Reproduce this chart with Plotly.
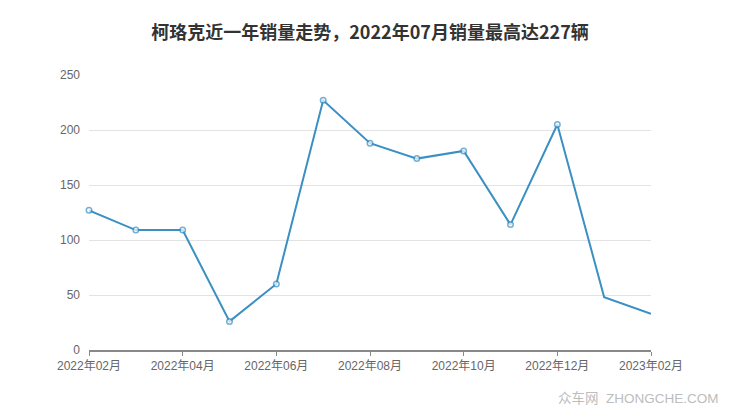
import plotly.graph_objects as go

months = ["2022年02月", "2022年03月", "2022年04月", "2022年05月", "2022年06月", "2022年07月",
          "2022年08月", "2022年09月", "2022年10月", "2022年11月", "2022年12月", "2023年01月", "2023年02月"]
sales = [127, 109, 109, 26, 60, 227, 188, 174, 181, 114, 205, 48, 33]
y_ticks = [0, 50, 100, 150, 200, 250]
x_tick_labels = months[::2]

n_marked = 11
sizes = [5.5] * n_marked + [0] * (len(months) - n_marked)

fig = go.Figure()
fig.add_trace(go.Scatter(
    x=list(range(len(months))), y=sales, mode="lines+markers",
    line=dict(color="#3a8fc3", width=2),
    marker=dict(symbol="circle", size=sizes, color="white", line=dict(width=1.5, color="#3a8fc3")),
    cliponaxis=False, hoverinfo="skip", showlegend=False,
))

fig.update_layout(
    width=740, height=417,
    margin=dict(l=81, r=97, t=67, b=75, autoexpand=False),
    paper_bgcolor="white", plot_bgcolor="white",
    font=dict(family="Liberation Sans, Noto Sans CJK SC, sans-serif", color="#666", size=12),
    title=dict(text="<b>柯珞克近一年销量走势，2022年07月销量最高达227辆</b>", x=(370 - 8) / 740,
               xanchor="center", y=1 - 25 / 417, yanchor="middle",
               font=dict(size=18, color="#333", family="Noto Sans CJK SC, sans-serif")),
    xaxis=dict(range=[0, len(months) - 1], tickvals=list(range(0, len(months), 2)), ticktext=x_tick_labels,
               showgrid=False, showline=True, linecolor="#888", linewidth=1.5, ticks="outside",
               ticklen=4, tickcolor="#888", zeroline=False, fixedrange=True, automargin=False,
               ticklabelstandoff=0, tickfont=dict(size=12, color="#666")),
    yaxis=dict(range=[0, 250], tickvals=y_ticks, showgrid=True, gridcolor="#e3e3e3", gridwidth=1,
               zeroline=False, showline=False, ticks="", ticklabelstandoff=8, automargin=False,
               tickfont=dict(size=12, color="#666")),
    annotations=[dict(text="众车网  ZHONGCHE.COM", xref="paper", yref="paper", x=1.0, y=0.0,
                      xshift=97 - 27, yshift=-48, xanchor="right", yanchor="middle", showarrow=False,
                      font=dict(size=13.5, color="#bdbdbd"))],
)

fig.write_html("out.html")
